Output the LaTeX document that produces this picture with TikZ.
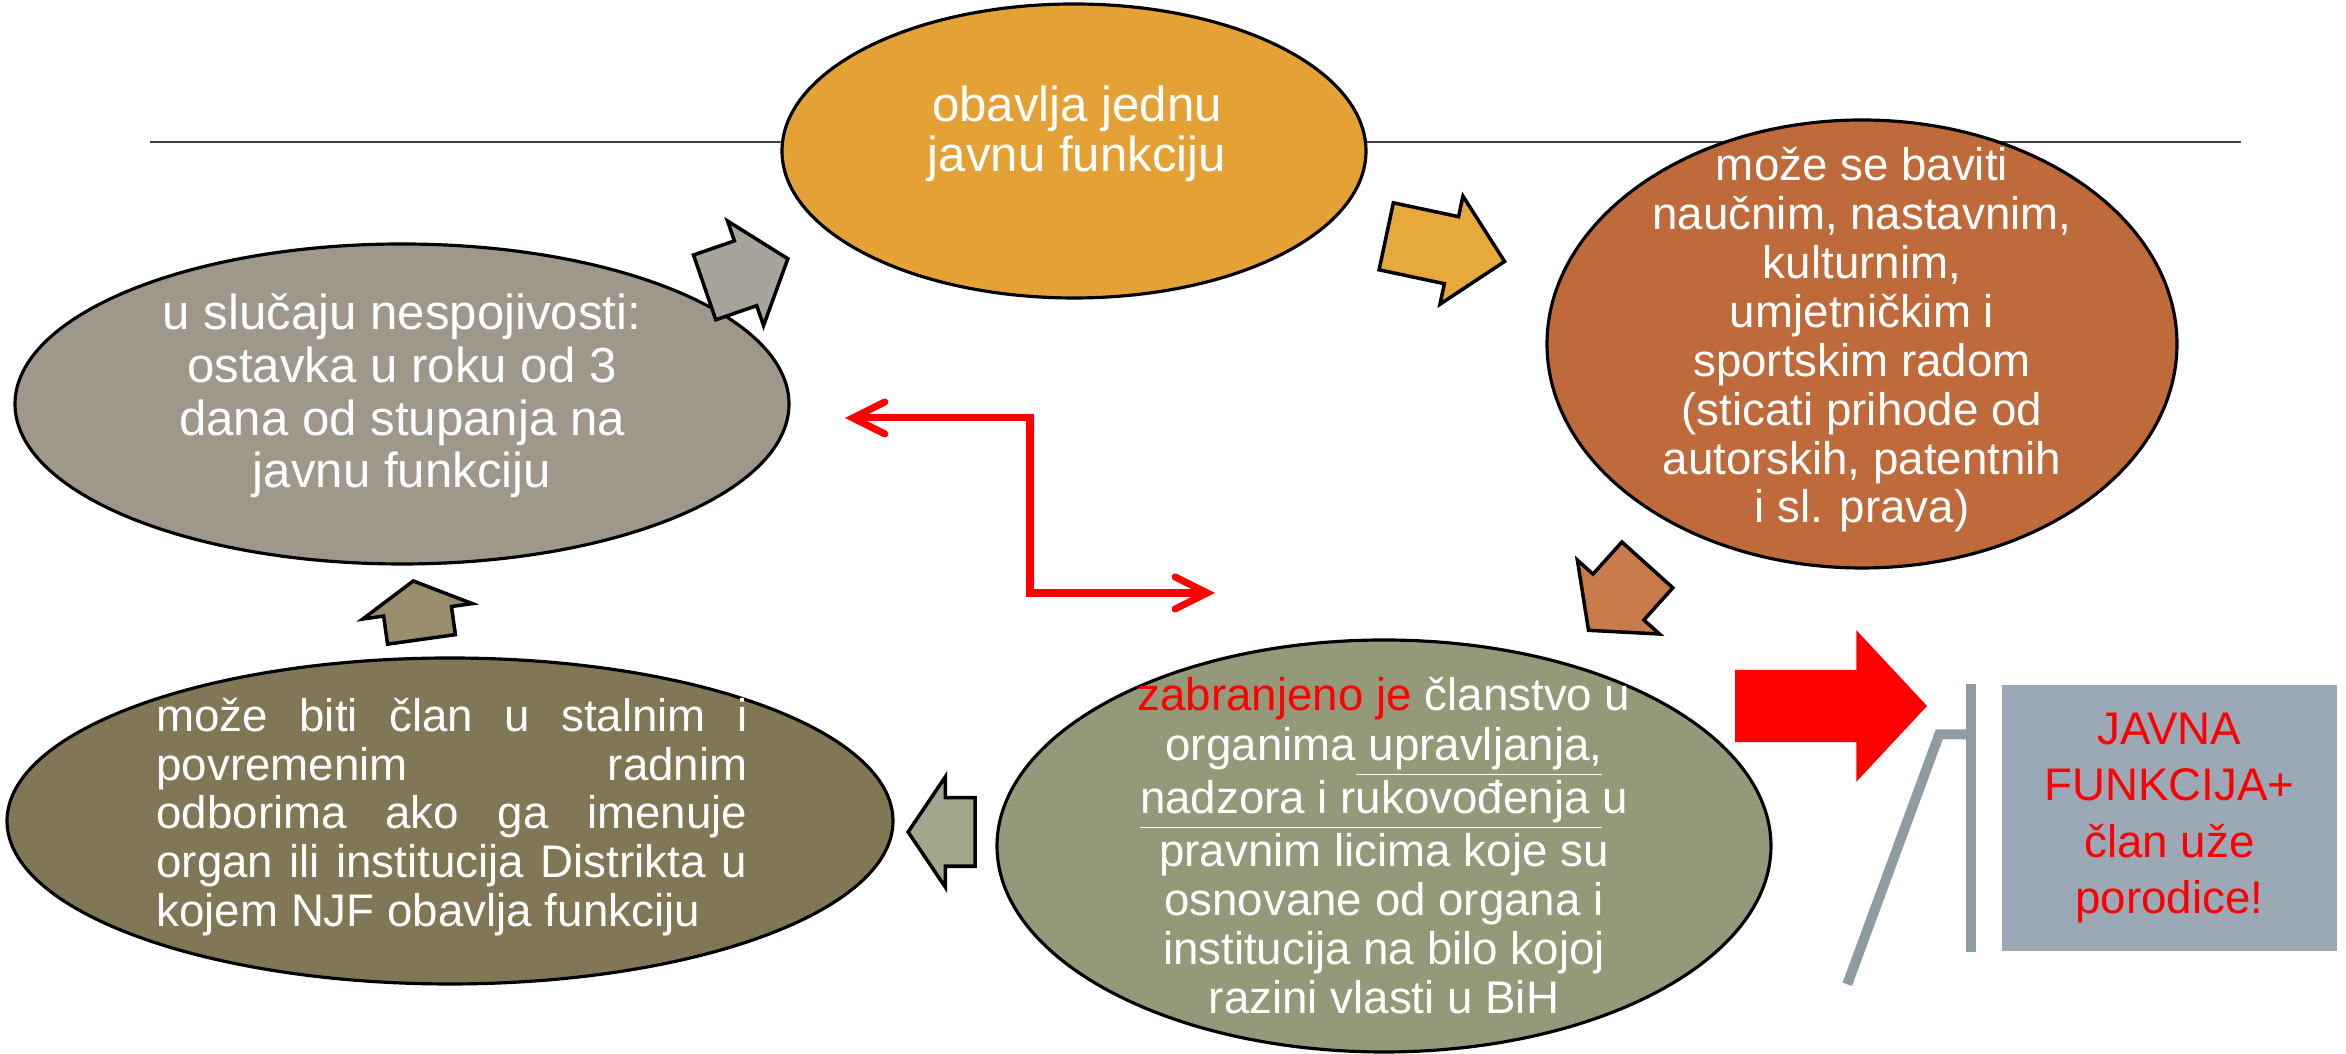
\documentclass[tikz,border=0pt]{standalone}
\usepackage{fontspec}
\setmainfont{Liberation Sans}
\usepackage{xcolor}
\usepackage{tikz}
\usetikzlibrary{arrows.meta,positioning,calc,shapes.geometric,shapes.arrows}

\definecolor{jfFill}{HTML}{E3A136}
\definecolor{radFill}{HTML}{BF6A3B}
\definecolor{ostFill}{HTML}{A0978B}
\definecolor{clanFill}{HTML}{817655}
\definecolor{zabFill}{HTML}{949979}
\definecolor{arrGray}{HTML}{A8A39B}
\definecolor{arrOrange}{HTML}{E8A93C}
\definecolor{arrBrown}{HTML}{C87A4B}
\definecolor{arrOlive}{HTML}{A2A68A}
\definecolor{arrTaupe}{HTML}{9A8D6C}
\definecolor{boxFill}{HTML}{9BA8B6}
\definecolor{bracketGray}{HTML}{8E9BA1}

\begin{document}
\begin{tikzpicture}[
    x=0.1mm, y=-0.1mm,
    oval/.style={ellipse, draw=black, line width=0.9pt, inner sep=0pt},
    txt/.style={text=white, align=center, inner sep=0pt, font=\fontsize{13pt}{13.9pt}\selectfont},
    blk/.style={single arrow, draw=black, line width=1pt, inner xsep=0pt, inner ysep=0.325cm,
        single arrow head extend=0.21cm, anchor=tip},
    link/.style={draw=red, line width=2pt,
        {Straight Barb[length=3.2mm,width=3.2mm,line cap=round]}-{Straight Barb[length=3.2mm,width=3.2mm,line cap=round]}},
    bracket/.style={draw=bracketGray, line width=1mm},
    box/.style={rectangle, fill=boxFill, minimum width=3.35cm, minimum height=2.66cm,
        text=red, align=center, font=\fontsize{13pt}{16pt}\selectfont}
]
    \useasboundingbox (0,0) rectangle (2346,1054);

    \draw[black!75, line width=0.6pt] (150,142) -- (2241,142);

    % ellipses
    \node[oval, fill=jfFill, minimum width=5.84cm, minimum height=2.94cm] (jf) at (1074,151) {};
    \node[oval, fill=radFill, minimum width=6.30cm, minimum height=4.48cm] (rad) at (1862,344) {};
    \node[oval, fill=ostFill, minimum width=7.74cm, minimum height=3.20cm] (ost) at (402,404) {};
    \node[oval, fill=clanFill, minimum width=8.86cm, minimum height=3.26cm] (clan) at (450,821) {};
    \node[oval, fill=zabFill, minimum width=7.74cm, minimum height=4.12cm] (zab) at (1384,846) {};

    \node[txt, font=\fontsize{14pt}{14.2pt}\selectfont] (jf-t) at ([xshift=0.03cm, yshift=0.17cm]jf.center)
        {obavlja jednu\\javnu funkciju};
    \node[txt] (rad-t) at ([yshift=0.04cm]rad.center)
        {može se baviti\\naučnim, nastavnim,\\kulturnim,\\umjetničkim i\\sportskim radom\\(sticati prihode od\\autorskih, patentnih\\i sl. prava)};
    \node[txt, font=\fontsize{14pt}{15pt}\selectfont] (ost-t) at ([yshift=0.08cm]ost.center)
        {u slučaju nespojivosti:\\ostavka u roku od 3\\dana od stupanja na\\javnu funkciju};
    \node[txt, text width=5.91cm, align=justify] (clan-t) at ([xshift=0.02cm, yshift=0.04cm]clan.center)
        {\sloppy može biti član u stalnim i\linebreak povremenim radnim\linebreak odborima ako ga imenuje\linebreak organ ili institucija Distrikta u\linebreak kojem NJF obavlja funkciju};
    \node[txt, font=\fontsize{13pt}{14pt}\selectfont] (zab-t) at (zab.center)
        {{\color{red}zabranjeno je} članstvo u\\organima\underline{~upravljanja,}\\\underline{nadzora i rukovođenja~}u\\pravnim licima koje su\\osnovane od organa i\\institucija na bilo kojoj\\razini vlasti u BiH};

    % block arrows between the ellipses
    \node[blk, fill=arrGray, rotate=19, minimum height=0.88cm, single arrow tip angle=102] (ost2jf) at (790,258) {};
    \node[blk, fill=arrOrange, rotate=-12, minimum height=1.21cm, single arrow tip angle=91] (jf2rad) at (1507,262) {};
    \node[blk, fill=arrBrown, rotate=228, minimum height=0.88cm, single arrow tip angle=102] (rad2zab) at (1587,632) {};
    \node[blk, fill=arrOlive, rotate=180, minimum height=0.67cm, single arrow tip angle=112] (zab2clan) at (906,832) {};
    \node[blk, fill=arrTaupe, rotate=98, minimum height=0.59cm, single arrow tip angle=122] (clan2ost) at (413,579) {};

    % red elbow arrow
    \coordinate (redL) at (845,418);
    \coordinate (redR) at (1215,593);
    \draw[link] (redL) -| ($(redL)!0.5!(redR)$) |- (redR);

    % box on the right
    \node[box] (clanbox) at (2169.5,818) {JAVNA\\FUNKCIJA+\\član uže\\porodice!};
    \node[single arrow, fill=red, inner xsep=0pt, inner ysep=0.355cm, anchor=tip, minimum height=1.92cm,
        single arrow head extend=0.395cm, single arrow tip angle=94] (ptr) at (1928,706) {};
    \draw[bracket] ([xshift=-3mm]clanbox.north west) -- ([xshift=-3mm]clanbox.south west);
    \draw[bracket] ([xshift=-3mm, yshift=-5mm]clanbox.north west) -- ++(-32,0) -- ++(-92,250);
\end{tikzpicture}
\end{document}
